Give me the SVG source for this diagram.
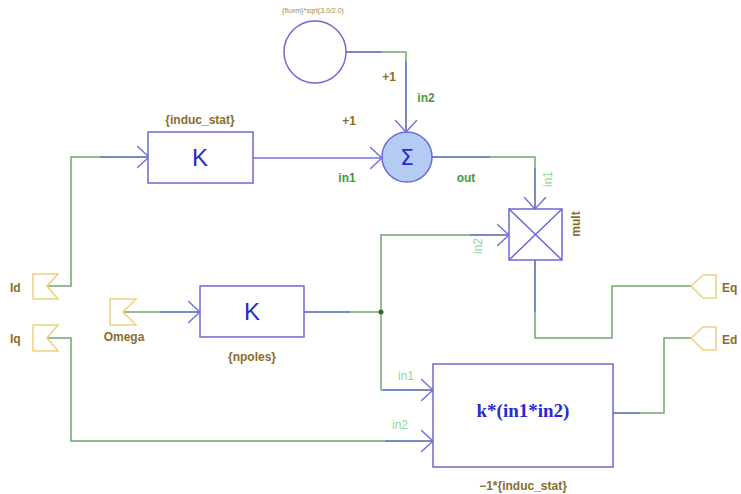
<svg xmlns="http://www.w3.org/2000/svg" width="741" height="494" viewBox="0 0 741 494">
<style>
.blk{fill:#fff;stroke:#6a6ad6;stroke-width:1.5}
.port{fill:#fff;stroke:#f0cf80;stroke-width:1.5}
.wg{fill:none;stroke:#6fa86f;stroke-width:1.5}
.wb{fill:none;stroke:#7474dc;stroke-width:1.5}
.br{font-family:"Liberation Sans",Arial,sans-serif;font-weight:bold;font-size:12px;fill:#8a6d2a}
.gd{font-family:"Liberation Sans",Arial,sans-serif;font-weight:bold;font-size:12px;fill:#3f9a3f}
.gl{font-family:"Liberation Sans",Arial,sans-serif;font-size:12px;fill:#94d894}
.kk{font-family:"Liberation Sans",Arial,sans-serif;font-size:24px;fill:#2a2ad0}
</style>
<defs>
<marker id="chev" viewBox="0 0 12 24" refX="12" refY="12" markerWidth="12" markerHeight="24" markerUnits="userSpaceOnUse" orient="auto">
<path d="M0,1 L12,12 L0,23" fill="none" stroke="#7474dc" stroke-width="1.5"/>
</marker>
</defs>
<rect width="741" height="494" fill="#fff"/>
<g id="connectors">
<path class="wg" d="M346,52 H406 V132"/>
<path class="wb" d="M346,52 H382"/>
<path class="wb" d="M406,62 V132" marker-end="url(#chev)"/>
<path class="wb" d="M253,158 H382" marker-end="url(#chev)"/>
<path class="wg" d="M432,157 H535 V209"/>
<path class="wb" d="M432,157 H490"/>
<path class="wb" d="M535,168 V209" marker-end="url(#chev)"/>
<path class="wg" d="M47,286 H71 V157 H149"/>
<path class="wb" d="M100,157 H149" marker-end="url(#chev)"/>
<path class="wg" d="M123,312 H200"/>
<path class="wb" d="M160,312 H200" marker-end="url(#chev)"/>
<path class="wg" d="M304,312 H381 V235 H509"/>
<path class="wb" d="M304,312 H350"/>
<path class="wb" d="M470,235 H509" marker-end="url(#chev)"/>
<path class="wg" d="M381,312 V390 H433"/>
<path class="wb" d="M383,390 H433" marker-end="url(#chev)"/>
<path class="wg" d="M47,338 H71 V441 H433"/>
<path class="wb" d="M385,441 H433" marker-end="url(#chev)"/>
<path class="wg" d="M535,260 V338 H612 V286 H691"/>
<path class="wb" d="M535,260 V312"/>
<path class="wg" d="M613,413 H664 V338 H691"/>
<path class="wb" d="M613,413 H640"/>
<circle cx="381" cy="312" r="2.5" fill="#2f6a2f"/>
</g>
<g id="const">
<circle cx="315" cy="52" r="31" fill="#fff" stroke="#6a6ad6" stroke-width="1.5"/>
<text x="313" y="13" text-anchor="middle" font-family="Liberation Sans,Arial,sans-serif" font-size="7" fill="#a08a5a">{fluxm}*sqrt(3.0/2.0)</text>
</g>
<g id="sum">
<circle cx="407" cy="157" r="25" fill="#b4ccf4" stroke="#6a6ad6" stroke-width="1.5"/>
<text x="407" y="165" text-anchor="middle" font-family="DejaVu Sans,sans-serif" font-size="22" fill="#2a2ad0">Σ</text>
<text class="br" x="349" y="125" text-anchor="middle">+1</text>
<text class="br" x="389" y="81" text-anchor="middle">+1</text>
<text class="gd" x="426" y="102" text-anchor="middle">in2</text>
<text class="gd" x="347" y="182" text-anchor="middle">in1</text>
<text class="gd" x="466" y="182" text-anchor="middle">out</text>
</g>
<g id="k_induc">
<rect class="blk" x="148" y="132" width="105" height="51"/>
<text class="kk" x="200" y="166" text-anchor="middle">K</text>
<text class="br" x="200" y="124" text-anchor="middle">{induc_stat}</text>
</g>
<g id="k_npoles">
<rect class="blk" x="200" y="286" width="104" height="51"/>
<text class="kk" x="252" y="320" text-anchor="middle">K</text>
<text class="br" x="252" y="361" text-anchor="middle">{npoles}</text>
</g>
<g id="mult">
<rect class="blk" x="509" y="209" width="53" height="51"/>
<path d="M509,209 L562,260 M562,209 L509,260" stroke="#6a6ad6" stroke-width="1.5"/>
<text class="gl" transform="translate(552,179) rotate(-90)" text-anchor="middle">in1</text>
<text class="gl" transform="translate(482,246) rotate(-90)" text-anchor="middle">in2</text>
<text class="br" transform="translate(580,224) rotate(-90)" text-anchor="middle">mult</text>
</g>
<g id="kprod">
<rect class="blk" x="433" y="364" width="180" height="103"/>
<text x="523" y="417" text-anchor="middle" font-family="Liberation Serif,serif" font-weight="bold" font-size="19" fill="#2a2ad0">k*(in1*in2)</text>
<text class="br" x="523" y="490" text-anchor="middle">−1*{induc_stat}</text>
<text class="gl" x="406" y="380" text-anchor="middle">in1</text>
<text class="gl" x="400" y="429" text-anchor="middle">in2</text>
</g>
<g id="Id">
<polygon class="port" points="33,274 58,274 47,286 58,299 33,299"/>
<text class="br" x="10" y="292" font-size="13">Id</text>
</g>
<g id="Iq">
<polygon class="port" points="33,325 58,325 47,338 58,351 33,351"/>
<text class="br" x="10" y="343" font-size="13">Iq</text>
</g>
<g id="Omega">
<polygon class="port" points="110,299 136,299 123,312 136,325 110,325"/>
<text class="br" x="124" y="341" text-anchor="middle" font-size="13">Omega</text>
</g>
<g id="Eq">
<polygon class="port" points="691,286 703,275 716,275 716,298 703,298"/>
<text class="br" x="722" y="292" font-size="13">Eq</text>
</g>
<g id="Ed">
<polygon class="port" points="691,338 703,327 716,327 716,350 703,350"/>
<text class="br" x="722" y="344" font-size="13">Ed</text>
</g>
</svg>
